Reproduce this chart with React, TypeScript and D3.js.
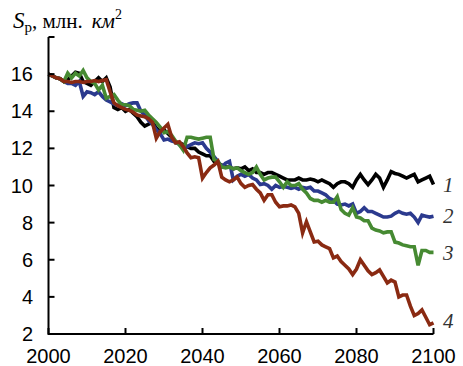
import React from "react";
import * as d3 from "d3";

const startYear = 2000;
const s1 = [
  16.0, 15.9, 15.8, 15.75, 15.6, 15.7, 15.9, 16.1, 16.05, 15.6,
  15.5, 15.4, 15.6, 15.8, 15.6, 15.8, 15.3, 14.2, 14.1, 14.2,
  14.0, 14.1, 13.9, 13.7, 13.4, 13.2, 13.3, 13.4, 13.1, 12.9,
  13.0, 12.8, 12.6, 12.3, 12.3, 12.2, 12.1, 12.0, 12.0, 11.8,
  11.7, 11.6, 11.6, 11.3, 11.2, 11.1, 11.0, 11.0, 10.9, 10.95,
  10.9, 11.0, 10.8, 10.9, 10.7, 10.7, 10.6, 10.7, 10.7, 10.6,
  10.5, 10.4, 10.3, 10.3, 10.3, 10.4, 10.3, 10.3, 10.35, 10.3,
  10.2, 10.3, 10.2, 10.1, 9.9, 10.1, 10.2, 10.2, 10.1, 9.9,
  10.3, 10.6, 10.3, 10.05, 10.3, 10.6, 10.4, 9.9, 10.3, 10.75,
  10.65, 10.6, 10.5, 10.4, 10.5, 10.6, 10.2, 10.3, 10.4, 10.5, 10.05,
];
const s2 = [
  16.0, 15.9, 15.8, 15.75, 15.6, 15.5, 15.5, 15.4, 15.6, 14.8,
  15.05, 15.0, 14.9, 15.05, 14.8, 14.6, 14.5, 14.4, 14.3, 14.4,
  14.3, 14.4, 14.45, 14.45, 14.0, 13.8, 13.5, 13.3, 13.0, 12.8,
  12.45, 12.5, 12.4, 12.35, 12.2, 12.0, 12.1, 12.2, 12.3, 12.25,
  12.3, 12.0, 11.8, 11.55, 11.3, 11.0, 11.2, 11.3, 10.3, 10.5,
  10.6, 10.5, 10.6, 10.4, 10.3, 10.05, 10.1, 10.0, 9.8, 10.0,
  9.9, 9.95, 9.9, 9.85, 9.9, 9.8, 9.9, 9.85, 9.9, 9.7,
  9.7, 9.6, 9.5, 9.3, 9.2, 9.0, 8.95, 9.0, 8.9, 9.0,
  8.5, 8.6, 8.8, 8.6, 8.6, 8.5, 8.4, 8.3, 8.3, 8.35,
  8.5, 8.6, 8.5, 8.45, 8.5, 8.3, 8.0, 8.4, 8.35, 8.3, 8.35,
];
const s3 = [
  16.0, 15.9, 15.8, 15.75, 15.6, 16.05, 15.8, 16.05, 15.9, 16.2,
  15.8, 15.6, 15.5, 15.15, 15.4, 14.7, 14.8, 14.9, 14.6, 14.35,
  14.35, 14.3, 14.1, 14.05, 14.0, 14.05, 13.8, 13.6, 13.4, 13.15,
  12.85, 12.9, 12.7, 12.4, 12.2, 11.9, 12.6, 12.6, 12.55, 12.5,
  12.55, 12.6, 12.6, 11.4, 11.3, 11.0, 10.95, 11.0, 10.9, 10.95,
  10.8, 10.7, 10.6, 10.7, 11.0, 10.6, 10.3, 10.4, 10.45, 10.45,
  10.2, 9.9, 10.2, 10.0, 10.0, 10.1, 9.8, 9.6, 9.3, 9.2,
  9.2, 9.1, 9.2, 9.1, 9.1, 9.4, 8.7, 8.5, 8.4, 8.8,
  8.3, 8.25, 8.1, 8.1, 7.7, 7.6, 7.55, 7.45, 7.5, 7.5,
  6.95, 6.9, 6.8, 6.75, 6.7, 6.7, 5.7, 6.5, 6.5, 6.4, 6.4,
];
const s4 = [
  16.0, 15.9, 15.8, 15.75, 15.6, 15.6, 15.55, 15.6, 15.6, 15.55,
  15.6, 15.6, 15.65, 15.6, 15.65, 15.7, 15.05, 14.45, 14.3, 14.2,
  14.1, 14.05, 13.95, 13.8, 13.75, 13.7, 13.6, 13.4, 12.55, 12.9,
  13.1, 13.3, 12.6, 12.3, 12.35, 12.1, 11.75, 11.5, 11.55, 11.5,
  10.4, 10.7, 10.95, 11.1, 11.3, 10.45, 10.3, 10.2, 10.3, 10.45,
  10.1, 9.9, 10.0, 10.05, 9.8, 9.6, 9.2, 9.5, 9.5, 9.1,
  8.85, 8.9, 8.9, 8.95, 8.85, 8.5, 7.45, 8.05, 7.5, 6.96,
  7.0, 6.8, 6.7, 6.6, 6.1, 6.2, 5.9, 5.7, 5.5, 5.2,
  5.5, 6.0, 5.7, 5.4, 5.2, 5.3, 5.45, 5.1, 4.75, 4.9,
  4.8, 4.0, 4.1, 4.1, 3.5, 3.0, 3.1, 3.3, 2.9, 2.5, 2.6,
];

const seriesValues = [s1, s2, s3, s4];
const seriesLabels = ["1", "2", "3", "4"];
const seriesColors = ["#000000", "#2b3a8e", "#468a32", "#8a2a12"];
const labelValues = [10.05, 8.35, 6.4, 2.7];
const xTicks = [2000, 2020, 2040, 2060, 2080, 2100];
const yTicks = [2, 4, 6, 8, 10, 12, 14, 16, 18];

export default function App() {
  const x = d3.scaleLinear().domain([2000, 2100]).range([48.5, 433.5]);
  const y = d3.scaleLinear().domain([2, 18]).range([334, 37]);
  const line = d3
    .line<number>()
    .x((_, i) => x(startYear + i))
    .y((d) => y(d));

  return (
    <svg
      width={463}
      height={366}
      style={{ position: "absolute", left: 0, top: 0, background: "#fff" }}
    >
      {seriesValues.map((vals, i) => (
        <path
          key={i}
          d={line(vals) || ""}
          fill="none"
          stroke={seriesColors[i]}
          strokeWidth={3.6}
          strokeLinejoin="miter"
        />
      ))}
      <line x1={x(2000)} x2={x(2100)} y1={y(2)} y2={y(2)} stroke="#000" strokeWidth={2} />
      <line x1={x(2000)} x2={x(2000)} y1={y(2) + 1} y2={y(18)} stroke="#000" strokeWidth={2} />
      {xTicks.map((t) => (
        <g key={t}>
          <line x1={x(t)} x2={x(t)} y1={y(2)} y2={y(2) - 6} stroke="#000" strokeWidth={2} />
          <text
            x={x(t)}
            y={363}
            textAnchor="middle"
            fontFamily="Liberation Sans, Arial, sans-serif"
            fontSize={20}
            fill="#000"
          >
            {t}
          </text>
        </g>
      ))}
      {yTicks.map((t) => (
        <g key={t}>
          <line x1={x(2000)} x2={x(2000) + 6} y1={y(t)} y2={y(t)} stroke="#000" strokeWidth={2} />
          {t < 18 && (
            <text
              x={33}
              y={y(t)}
              dy="0.35em"
              textAnchor="end"
              fontFamily="Liberation Sans, Arial, sans-serif"
              fontSize={20}
              fill="#000"
            >
              {t}
            </text>
          )}
        </g>
      ))}
      {seriesLabels.map((l, i) => (
        <text
          key={l}
          x={443}
          y={y(labelValues[i])}
          dy="0.35em"
          fontFamily="Liberation Serif, Times New Roman, serif"
          fontStyle="italic"
          fontSize={21}
          fill="#333"
        >
          {l}
        </text>
      ))}
      <text
        x={13}
        y={28}
        fontFamily="Liberation Serif, Times New Roman, serif"
        fontSize={21}
        fill="#000"
      >
        <tspan fontStyle="italic" fontSize={23}>S</tspan>
        <tspan dy={4} fontSize={15}>р</tspan>
        <tspan dy={-4}>, млн.</tspan>
        <tspan dx={9} fontStyle="italic">км</tspan>
        <tspan dy={-9} fontSize={14}>2</tspan>
      </text>
    </svg>
  );
}
